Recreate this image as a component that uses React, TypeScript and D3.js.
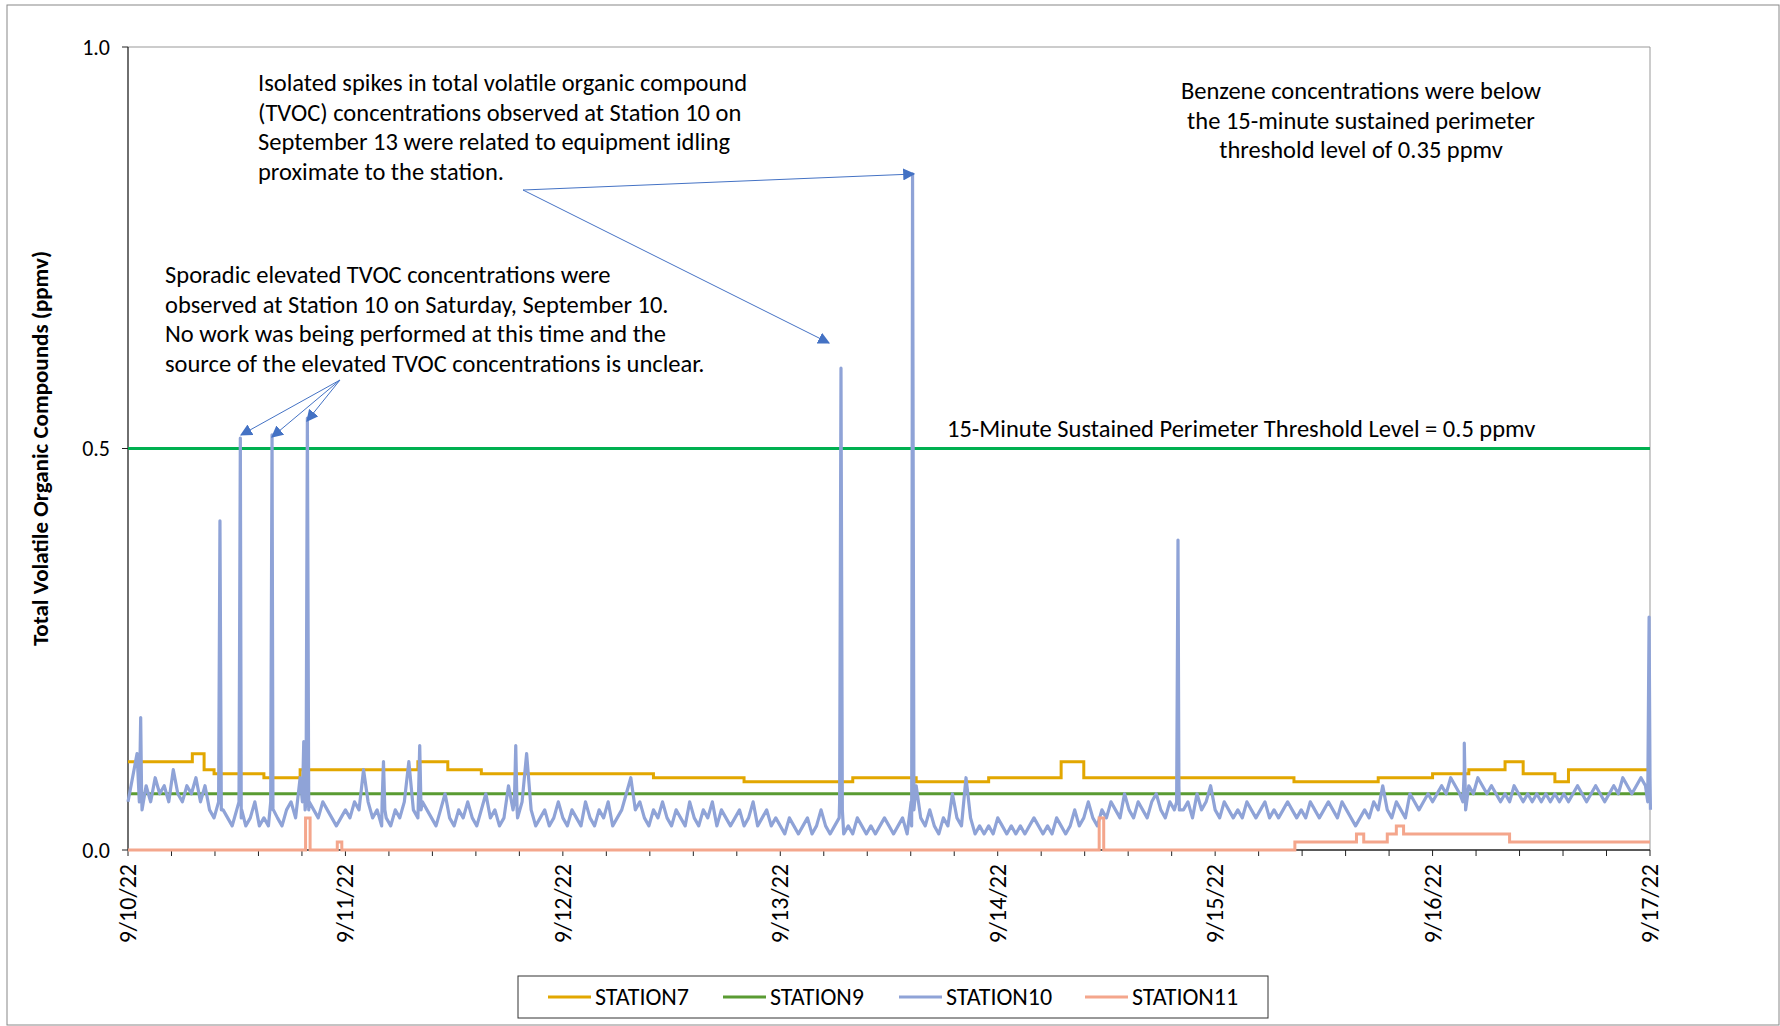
import React from "react";
import * as d3 from "d3";

const start = new Date(2022, 8, 10);
const dayLabels = ["9/10/22", "9/11/22", "9/12/22", "9/13/22", "9/14/22", "9/15/22", "9/16/22", "9/17/22"];
const yTicks = [0, 0.5, 1.0];

// station 10 readings every half hour (h0..168)
const station10Half = [
  0.06, 0.09, 0.12, 0.07, 0.08, 0.06, 0.09, 0.07, 0.08, 0.06, 0.10, 0.07, 0.06, 0.08, 0.07, 0.09, 0.06, 0.08, 0.05, 0.04, 0.06, 0.05, 0.04, 0.03,
  0.05, 0.04, 0.03, 0.04, 0.06, 0.03, 0.04, 0.03, 0.05, 0.04, 0.03, 0.05, 0.06, 0.04, 0.09, 0.07, 0.06, 0.05, 0.04, 0.06, 0.05, 0.04, 0.03, 0.04,
  0.05, 0.04, 0.06, 0.05, 0.10, 0.06, 0.04, 0.05, 0.03, 0.04, 0.03, 0.05, 0.04, 0.06, 0.11, 0.05, 0.04, 0.06, 0.05, 0.04, 0.03, 0.05, 0.07, 0.04,
  0.03, 0.05, 0.04, 0.06, 0.04, 0.03, 0.05, 0.07, 0.04, 0.05, 0.03, 0.04, 0.08, 0.05, 0.04, 0.06, 0.12, 0.05, 0.03, 0.04, 0.05, 0.03, 0.04, 0.06,
  0.04, 0.03, 0.05, 0.04, 0.03, 0.06, 0.04, 0.03, 0.05, 0.04, 0.06, 0.03, 0.04, 0.05, 0.07, 0.09, 0.05, 0.06, 0.04, 0.03, 0.05, 0.04, 0.06, 0.04,
  0.03, 0.05, 0.04, 0.03, 0.06, 0.04, 0.03, 0.05, 0.04, 0.06, 0.03, 0.05, 0.04, 0.03, 0.04, 0.05, 0.03, 0.04, 0.06, 0.03, 0.04, 0.05, 0.03, 0.04,
  0.03, 0.02, 0.04, 0.03, 0.02, 0.03, 0.04, 0.02, 0.03, 0.05, 0.03, 0.02, 0.03, 0.04, 0.02, 0.03, 0.02, 0.04, 0.03, 0.02, 0.03, 0.02, 0.03, 0.04,
  0.03, 0.02, 0.03, 0.04, 0.02, 0.03, 0.08, 0.04, 0.03, 0.05, 0.03, 0.02, 0.04, 0.03, 0.07, 0.04, 0.03, 0.09, 0.04, 0.02, 0.03, 0.02, 0.03, 0.02,
  0.04, 0.03, 0.02, 0.03, 0.02, 0.03, 0.02, 0.03, 0.04, 0.03, 0.02, 0.03, 0.02, 0.04, 0.03, 0.02, 0.03, 0.05, 0.03, 0.04, 0.06, 0.04, 0.03, 0.05,
  0.04, 0.06, 0.05, 0.04, 0.07, 0.05, 0.04, 0.06, 0.05, 0.04, 0.06, 0.07, 0.05, 0.04, 0.06, 0.05, 0.08, 0.05, 0.06, 0.04, 0.07, 0.05, 0.06, 0.08,
  0.05, 0.04, 0.06, 0.05, 0.04, 0.05, 0.04, 0.06, 0.05, 0.04, 0.05, 0.06, 0.04, 0.05, 0.04, 0.05, 0.06, 0.05, 0.04, 0.05, 0.04, 0.06, 0.05, 0.04,
  0.05, 0.06, 0.05, 0.04, 0.06, 0.05, 0.04, 0.03, 0.04, 0.05, 0.04, 0.06, 0.05, 0.08, 0.05, 0.04, 0.06, 0.05, 0.04, 0.07, 0.06, 0.05, 0.06, 0.07,
  0.06, 0.07, 0.08, 0.07, 0.09, 0.08, 0.07, 0.10, 0.08, 0.07, 0.09, 0.08, 0.07, 0.08, 0.07, 0.06, 0.07, 0.06, 0.08, 0.07, 0.06, 0.07, 0.06, 0.07,
  0.06, 0.07, 0.06, 0.07, 0.06, 0.07, 0.06, 0.07, 0.08, 0.07, 0.06, 0.07, 0.08, 0.07, 0.06, 0.07, 0.08, 0.07, 0.09, 0.08, 0.07, 0.08, 0.09, 0.08, 0.09,
];
// [hour, peak] short spikes in station 10
const station10Spikes: [number, number][] = [
  [1.4, 0.165], [10.15, 0.41], [12.4, 0.513], [15.9, 0.517], [19.4, 0.135], [19.8, 0.538], [28.2, 0.11], [32.2, 0.13], [42.8, 0.13],
  [78.7, 0.6], [86.6, 0.842], [115.9, 0.386], [147.5, 0.133], [167.9, 0.29],
];
// [startHour, value] steps
const station7Steps: [number, number][] = [
  [0, 0.11], [7.1, 0.12], [8.4, 0.1], [9.5, 0.095], [15, 0.09], [19, 0.1], [32, 0.11], [35.3, 0.1], [39, 0.095], [58, 0.09],
  [68, 0.085], [80, 0.09], [87, 0.085], [95, 0.09], [103, 0.11], [105.5, 0.09], [128.7, 0.085], [138, 0.09], [144, 0.095],
  [148, 0.1], [152, 0.11], [154, 0.095], [157.5, 0.085], [159, 0.1], [168, 0.1],
];
const station9Steps: [number, number][] = [[0, 0.07], [168, 0.07]];
const station11Steps: [number, number][] = [
  [0, 0], [19.6, 0.04], [20.1, 0], [23.1, 0.01], [23.6, 0], [107.2, 0.04], [107.7, 0], [128.8, 0.01], [135.6, 0.02], [136.4, 0.01],
  [139, 0.02], [140, 0.03], [140.8, 0.02], [152.5, 0.01], [168, 0.01],
];

const legendItems = [
  { name: "STATION7", color: "#E2A700" },
  { name: "STATION9", color: "#5A9B33" },
  { name: "STATION10", color: "#8FA3D7" },
  { name: "STATION11", color: "#F4A68C" },
];

const W = 1780, H = 1026;
const m = { left: 128, right: 1650, top: 47, bottom: 850 };
const font = "Carlito, 'Liberation Sans Narrow', 'Liberation Sans', sans-serif";

const hr = (h: number) => new Date(start.getTime() + h * 3600e3);

export default function App() {
  const x = d3.scaleTime().domain([start, hr(168)]).range([m.left, m.right]);
  const y = d3.scaleLinear().domain([0, 1]).range([m.bottom, m.top]);
  const xh = (h: number) => x(hr(h));

  const pts10: [number, number][] = station10Half.map((v, i) => [i / 2, v] as [number, number]);
  station10Spikes.forEach(([h, v]) => {
    pts10.push([h - 0.15, 0.06], [h, v], [h + 0.15, 0.05]);
  });
  pts10.sort((a, b) => a[0] - b[0]);

  const line = d3.line<[number, number]>().x((d) => xh(d[0])).y((d) => y(d[1]));
  const step = d3.line<[number, number]>().x((d) => xh(d[0])).y((d) => y(d[1])).curve(d3.curveStepAfter);

  const minor = d3.range(0, 168.01, 4.8);

  return (
    <svg width={W} height={H} style={{ position: "absolute", left: 0, top: 0 }} fontFamily={font}>
      <rect x={7} y={5} width={W - 8} height={H - 6} fill="white" stroke="#888" />
      <path d={`M${m.left},${m.top}H${m.right}V${m.bottom}`} fill="none" stroke="#999" />
      <line x1={m.left} x2={m.left} y1={m.top} y2={m.bottom} stroke="#222" strokeWidth={1.3} />
      <line x1={m.left} x2={m.right} y1={m.bottom} y2={m.bottom} stroke="#222" strokeWidth={1.3} />
      {yTicks.map((t) => (
        <g key={t}>
          <line x1={m.left - 6} x2={m.left} y1={y(t)} y2={y(t)} stroke="#222" />
          <text x={m.left - 18} y={y(t)} dy="0.35em" textAnchor="end" fontSize={22}>{t.toFixed(1)}</text>
        </g>
      ))}
      {minor.map((h) => (
        <line key={h} x1={xh(h)} x2={xh(h)} y1={m.bottom} y2={m.bottom + 6} stroke="#222" />
      ))}
      {dayLabels.map((l, i) => (
        <text key={l} transform={`translate(${xh(i * 24) + 8},${m.bottom + 14}) rotate(-90)`} textAnchor="end" fontSize={24}>{l}</text>
      ))}
      <text transform={`translate(48,${(m.top + m.bottom) / 2}) rotate(-90)`} textAnchor="middle" fontSize={23} fontWeight="bold">Total Volatile Organic Compounds (ppmv)</text>

      <line x1={m.left} x2={m.right} y1={y(0.5)} y2={y(0.5)} stroke="#00B050" strokeWidth={3} />
      <path d={step(station9Steps) || ""} fill="none" stroke={legendItems[1].color} strokeWidth={3} />
      <path d={step(station7Steps) || ""} fill="none" stroke={legendItems[0].color} strokeWidth={3} />
      <path d={line(pts10) || ""} fill="none" stroke={legendItems[2].color} strokeWidth={3.2} strokeLinejoin="round" />
      <path d={step(station11Steps) || ""} fill="none" stroke={legendItems[3].color} strokeWidth={3} />

      <defs>
        <marker id="ah" viewBox="0 0 10 10" refX={9} refY={5} markerWidth={12} markerHeight={12} orient="auto-start-reverse" markerUnits="userSpaceOnUse">
          <path d="M0,0L10,5L0,10z" fill="#4472C4" />
        </marker>
      </defs>
      {[[914, 174], [829, 343]].map(([ax, ay], i) => (
        <line key={"a" + i} x1={523} y1={190} x2={ax} y2={ay} stroke="#4472C4" markerEnd="url(#ah)" />
      ))}
      {[[241, 435], [272, 437], [307, 421]].map(([ax, ay], i) => (
        <line key={"b" + i} x1={340} y1={380} x2={ax} y2={ay} stroke="#4472C4" markerEnd="url(#ah)" />
      ))}

      <g fontSize={24.5}>
        {["Isolated spikes in total volatile organic compound", "(TVOC) concentrations observed at Station 10 on", "September 13 were related to equipment idling", "proximate to the station."].map((s, i) => (
          <text key={s} x={258} y={91 + i * 29.5}>{s}</text>
        ))}
        {["Sporadic elevated TVOC concentrations were", "observed at Station 10 on Saturday, September 10.", "No work was being performed at this time and the", "source of the elevated TVOC concentrations is unclear."].map((s, i) => (
          <text key={s} x={165} y={283 + i * 29.5}>{s}</text>
        ))}
        {["Benzene concentrations were below", "the 15-minute sustained perimeter", "threshold level of 0.35 ppmv"].map((s, i) => (
          <text key={s} x={1361} y={99 + i * 29.5} textAnchor="middle">{s}</text>
        ))}
        <text x={947} y={437}>15-Minute Sustained Perimeter Threshold Level = 0.5 ppmv</text>
      </g>

      <rect x={518} y={976} width={750} height={42} fill="white" stroke="#333" />
      {legendItems.map((it, i) => {
        const lx = [548, 723, 899, 1085][i];
        return (
          <g key={it.name}>
            <line x1={lx} x2={lx + 43} y1={997} y2={997} stroke={it.color} strokeWidth={3} />
            <text x={lx + 47} y={997} dy="0.35em" fontSize={24}>{it.name}</text>
          </g>
        );
      })}
    </svg>
  );
}
